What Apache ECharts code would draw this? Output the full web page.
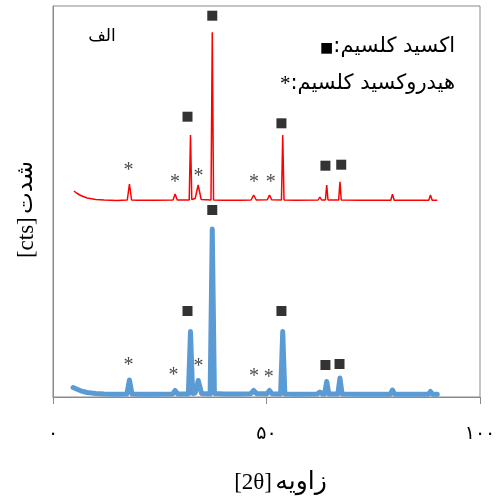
<!DOCTYPE html>
<html><head><meta charset="utf-8">
<script src="https://cdn.jsdelivr.net/npm/echarts@6/dist/echarts.min.js"></script>
<style>html,body{margin:0;padding:0;background:#fff}#c{width:501px;height:500px}</style>
</head><body><div id="c"></div>
<script>
// X tick labels (Persian digits)
const xTickValues = [0, 50, 100];
const xTickLabels = ['۰', '۵۰', '۱۰۰'];

// Lower (blue) pattern
const blueAngles = [4.7,5.5,6.5,8,10,12,15,17.3,17.9,18.5,20,24,28.0,28.6,29.2,31.7,32.2,32.7,33.3,34.0,34.8,36.8,37.3,37.8,40,44,46.3,47.0,47.7,50.1,50.7,51.3,53.3,53.8,54.3,57,61.9,62.5,63.1,63.6,64.1,64.6,66.7,67.2,67.7,72,79.0,79.5,80.0,84,87.9,88.4,88.9,90];
const blueCounts = [95,80,62,45,35,30,28,30,170,30,28,28,30,65,30,30,655,35,40,165,35,30,1680,35,30,30,32,65,32,32,65,32,30,655,30,28,30,50,30,30,155,30,30,190,30,28,28,70,28,28,28,55,28,28];

// Upper (red) pattern
const redAngles = [4.9,5.5,6.5,8,10,12,15,17.4,17.9,18.4,20,24,28.1,28.6,29.1,31.9,32.2,32.5,33.3,34.0,34.7,37.0,37.3,37.6,40,44,46.4,47.0,47.6,50.2,50.7,51.2,53.5,53.8,54.1,57,62.1,62.5,62.9,63.8,64.1,64.4,66.9,67.2,67.5,72,79.1,79.5,79.9,84,88.0,88.4,88.8,90];
const redCounts = [2060,2040,2015,1990,1975,1970,1965,1970,2130,1970,1968,1968,1970,2030,1970,1970,2620,1975,1985,2120,1975,1970,3647,1970,1968,1968,1970,2020,1970,1972,2020,1972,1970,2620,1970,1968,1970,2000,1970,1970,2120,1970,1970,2153,1970,1968,1968,2027,1968,1968,1968,2020,1968,1968];

// Phase markers: ■ = CaO, * = Ca(OH)2
const squareAngles = [31.5,37.3,53.5,63.8,67.1, 31.5,37.3,53.5,63.8,67.5];
const squareCounts = [860,1870,860,320,330, 2803,3813,2737,2313,2323];
const starAngles = [17.7,28.2,34.1,47.1,50.5, 17.7,28.6,34.1,47.1,51.0];
const starCounts = [343,243,337,230,220, 2293,2170,2237,2170,2170];

const zip = (a, b) => a.map((v, i) => [v, b[i]]);
const FONT = "'Liberation Serif','DejaVu Sans',serif";
const AFONT = "'DejaVu Sans','Liberation Serif',sans-serif";

const chart = echarts.init(document.getElementById('c'), null, {renderer: 'canvas'});
chart.setOption({
  animation: false,
  backgroundColor: '#fff',
  grid: {left: 53, right: 21, top: 6, bottom: 103, show: true, borderColor: '#8a8a8a', borderWidth: 1,
         containLabel: false, outerBoundsMode: 'none'},
  xAxis: {
    type: 'value', min: 0, max: 100, interval: 50,
    name: '{a|[2θ]} {b|زاویه}', nameLocation: 'middle', nameGap: 73,
    nameTextStyle: {padding: [0, 0, 0, 28], color: '#000',
      rich: {a: {fontFamily: FONT, fontSize: 23, color: '#000'}, b: {fontFamily: AFONT, fontSize: 25, color: '#000'}}},
    axisLine: {show: true, lineStyle: {color: '#8a8a8a', width: 1}},
    axisTick: {show: true, inside: false, length: 7, lineStyle: {color: '#8a8a8a'}},
    axisLabel: {margin: 28, fontFamily: FONT, fontSize: 19, color: '#000',
      formatter: v => xTickLabels[xTickValues.indexOf(v)]},
    splitLine: {show: false}
  },
  yAxis: {
    type: 'value', min: 0, max: 3910,
    name: '{a|[cts]} {b|شدت}', nameLocation: 'middle', nameGap: 15,
    nameTextStyle: {padding: [0, 16, 0, 0], color: '#000',
      rich: {a: {fontFamily: FONT, fontSize: 23, color: '#000'}, b: {fontFamily: AFONT, fontSize: 23, color: '#000'}}},
    axisLine: {show: true, lineStyle: {color: '#8a8a8a', width: 1}},
    axisTick: {show: false}, axisLabel: {show: false}, splitLine: {show: false}
  },
  series: [
    {type: 'line', data: zip(blueAngles, blueCounts), showSymbol: false, smooth: false,
     lineStyle: {color: '#5b9bd5', width: 5, cap: 'round', join: 'round'}, z: 2},
    {type: 'line', data: zip(redAngles, redCounts), showSymbol: false, smooth: false,
     lineStyle: {color: '#ff0000', width: 1.5}, z: 3},
    {type: 'scatter', data: zip(squareAngles, squareCounts), symbol: 'rect', symbolSize: 10,
     itemStyle: {color: '#000'}, z: 5},
    {type: 'scatter', data: zip(starAngles, starCounts), symbolSize: 1,
     itemStyle: {color: 'rgba(0,0,0,0)'},
     label: {show: true, position: 'inside', offset: [0, 3], formatter: '*', fontFamily: FONT, fontSize: 20, color: '#1a1a1a'}, z: 5}
  ],
  graphic: [
    {type: 'text', x: 102, y: 37, style: {text: 'الف', fontFamily: AFONT, fontSize: 17, fill: '#000', align: 'center', verticalAlign: 'middle'}},
    {type: 'text', x: 455, y: 47, style: {text: '{s|■}{t|:اکسید کلسیم}', align: 'right', verticalAlign: 'middle',
      rich: {s: {fontFamily: AFONT, fontSize: 14, fill: '#000', padding: [3, 0, 0, 0]}, t: {fontFamily: AFONT, fontSize: 21, fill: '#000'}}}},
    {type: 'text', x: 455, y: 84, style: {text: '{s|*}{t|:هیدروکسید کلسیم}', align: 'right', verticalAlign: 'middle',
      rich: {s: {fontFamily: FONT, fontSize: 21, fill: '#000'}, t: {fontFamily: AFONT, fontSize: 21, fill: '#000'}}}}
  ]
});
</script></body></html>
